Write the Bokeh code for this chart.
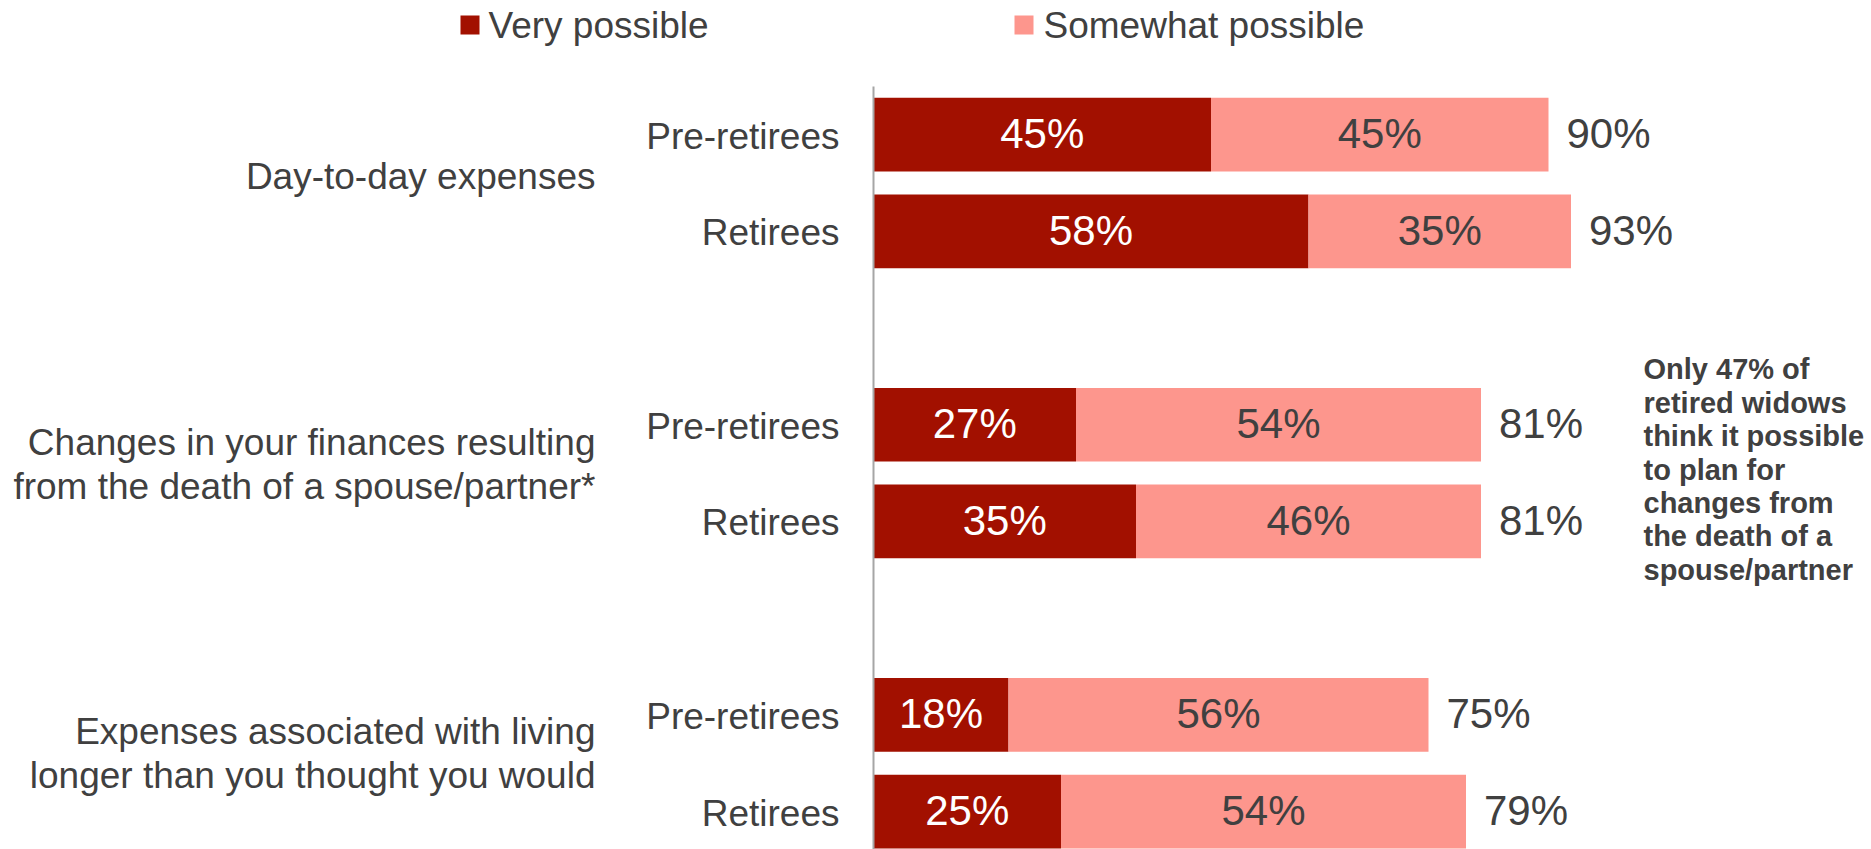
from bokeh.plotting import figure
from bokeh.models import ColumnDataSource, Range1d
from bokeh.core.properties import value
from bokeh.embed import file_html
from bokeh.resources import INLINE

# ---------------- data ----------------
groups = ["Day-to-day expenses",
          "Changes in your finances resulting\nfrom the death of a spouse/partner*",
          "Expenses associated with living\nlonger than you thought you would"]
segments = ["Pre-retirees", "Retirees"]
series = ["Very possible", "Somewhat possible"]
very = [45, 58, 27, 35, 18, 25]
somewhat = [45, 35, 54, 46, 56, 54]
totals = [90, 93, 81, 81, 75, 79]
note = ["Only 47% of", "retired widows", "think it possible", "to plan for",
        "changes from", "the death of a", "spouse/partner"]

# ---------------- style / layout ----------------
DARK = "#A21000"
LIGHT = "#FD968D"
TEXT = "#404040"
FONT = value("Liberation Sans")

W, H = 1871, 849
AXIS_X = 873.0      # px of 0 %
PX_PER_PCT = 7.5
ROW0_Y = 134.15     # px of first row centre
ROW_PX = 96.7
BAR_H = 0.762


def xd(px):
    return (px - AXIS_X) / PX_PER_PCT


def yd(py):
    return (py - ROW0_Y) / ROW_PX


rows = [g * 3 + s for g in range(len(groups)) for s in range(len(segments))]
ends = [v + s for v, s in zip(very, somewhat)]
seg_labels = [segments[s] for g in range(len(groups)) for s in range(len(segments))]

src = ColumnDataSource(dict(
    row=rows,
    very=very,
    somewhat=somewhat,
    end=ends,
    very_mid=[v / 2 for v in very],
    some_mid=[v + s / 2 for v, s in zip(very, somewhat)],
    total_x=[e + 18 / PX_PER_PCT for e in ends],
    val_y=[r - 1 / ROW_PX for r in rows],
    cat_y=[r + 1.5 / ROW_PX for r in rows],
    very_txt=[f"{v}%" for v in very],
    some_txt=[f"{s}%" for s in somewhat],
    total_txt=[f"{t}%" for t in totals],
    seg=seg_labels,
))

p = figure(width=W, height=H, output_backend="svg", toolbar_location=None,
           x_range=Range1d(xd(0), xd(W)),
           y_range=Range1d(yd(H), yd(0)),
           x_axis_location=None, y_axis_location=None, min_border=0)
p.outline_line_color = None
p.grid.grid_line_color = None
p.background_fill_color = "white"
p.border_fill_color = "white"

# bars
p.hbar(y="row", left=0, right="very", height=BAR_H, source=src,
       fill_color=DARK, line_color=None)
p.hbar(y="row", left="very", right="end", height=BAR_H, source=src,
       fill_color=LIGHT, line_color=None)

# vertical axis line
p.segment(x0=0, y0=yd(86), x1=0, y1=yd(H), line_color="#A6A6A6", line_width=2)

# value labels
p.text(x="very_mid", y="val_y", text="very_txt", source=src, text_font=FONT,
       text_font_size="42px", text_color="white", text_align="center",
       text_baseline="middle")
p.text(x="some_mid", y="val_y", text="some_txt", source=src, text_font=FONT,
       text_font_size="42px", text_color=TEXT, text_align="center",
       text_baseline="middle")
p.text(x="total_x", y="val_y", text="total_txt", source=src, text_font=FONT,
       text_font_size="42px", text_color=TEXT, text_align="left",
       text_baseline="middle")

# segment labels
p.text(x=xd(839), y="cat_y", text="seg", source=src, text_font=FONT,
       text_font_size="37px", text_color=TEXT, text_align="right",
       text_baseline="middle")

# group labels
gx, gy, gt = [], [], []
LINE_PX = 44
for g, name in enumerate(groups):
    lines = name.split("\n")
    n = len(lines)
    centre_px = (g * 3 + 0.5) * ROW_PX - 7 - 1.2 * g
    for i, ln in enumerate(lines):
        cap_c = centre_px + (i - (n - 1) / 2) * LINE_PX
        gx.append(xd(595))
        gy.append(cap_c / ROW_PX)
        gt.append(ln)
p.text(x=gx, y=gy, text=gt, text_font=FONT, text_font_size="37px",
       text_color=TEXT, text_align="right", text_baseline="middle")

# legend
leg_colors = [DARK, LIGHT]
leg_sq_x = [469.5, 1023.5]
leg_txt_x = [488, 1043]
p.rect(x=[xd(v) for v in leg_sq_x], y=[yd(24.5)] * 2, width=19, height=19,
       width_units="screen", height_units="screen", fill_color=leg_colors,
       line_color=None)
p.text(x=[xd(v) for v in leg_txt_x], y=[yd(24.5)] * 2, text=series,
       text_font=FONT, text_font_size="37px", text_color=TEXT,
       text_align="left", text_baseline="middle")

# side note
p.text(x=[xd(1643)] * len(note), y=[yd(368.8 + 33.4 * i) for i in range(len(note))],
       text=note, text_font=FONT, text_font_size="29px", text_font_style="bold",
       text_color=TEXT, text_align="left", text_baseline="middle")

open("out.html", "w").write(file_html(p, INLINE))
